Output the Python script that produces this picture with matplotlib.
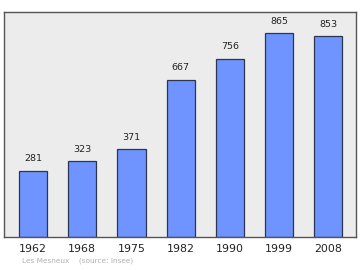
import matplotlib
matplotlib.use("Agg")
import matplotlib.pyplot as plt

years = ["1962", "1968", "1975", "1982", "1990", "1999", "2008"]
population = [281, 323, 371, 667, 756, 865, 853]

fig = plt.figure(figsize=(3.6, 2.7), dpi=100)
ax = fig.add_axes([0.011, 0.123, 0.978, 0.833])
ax.set_facecolor("#ececec")

x = range(len(years))
ax.bar(x, population, width=0.57, color="#6f94ff", edgecolor="#2a3550", linewidth=0.9)
for i, v in zip(x, population):
    ax.text(i, v + 30, str(v), ha="center", va="bottom", fontsize=6.8, color="#222222")

ax.set_xlim(-0.59, 6.56)
ax.set_ylim(0, 954)
ax.set_xticks(list(x))
ax.set_xticklabels(years, fontsize=7.9, color="#222222")
ax.tick_params(axis="x", length=0, pad=5)
ax.set_yticks([])
for s in ax.spines.values():
    s.set_color("#555555")
    s.set_linewidth(1.0)

fig.text(0.061, 0.026, "Les Mesneux    (source: Insee)", fontsize=5.3, color="#b0b0b0")

fig.savefig("out.png", dpi=100)
